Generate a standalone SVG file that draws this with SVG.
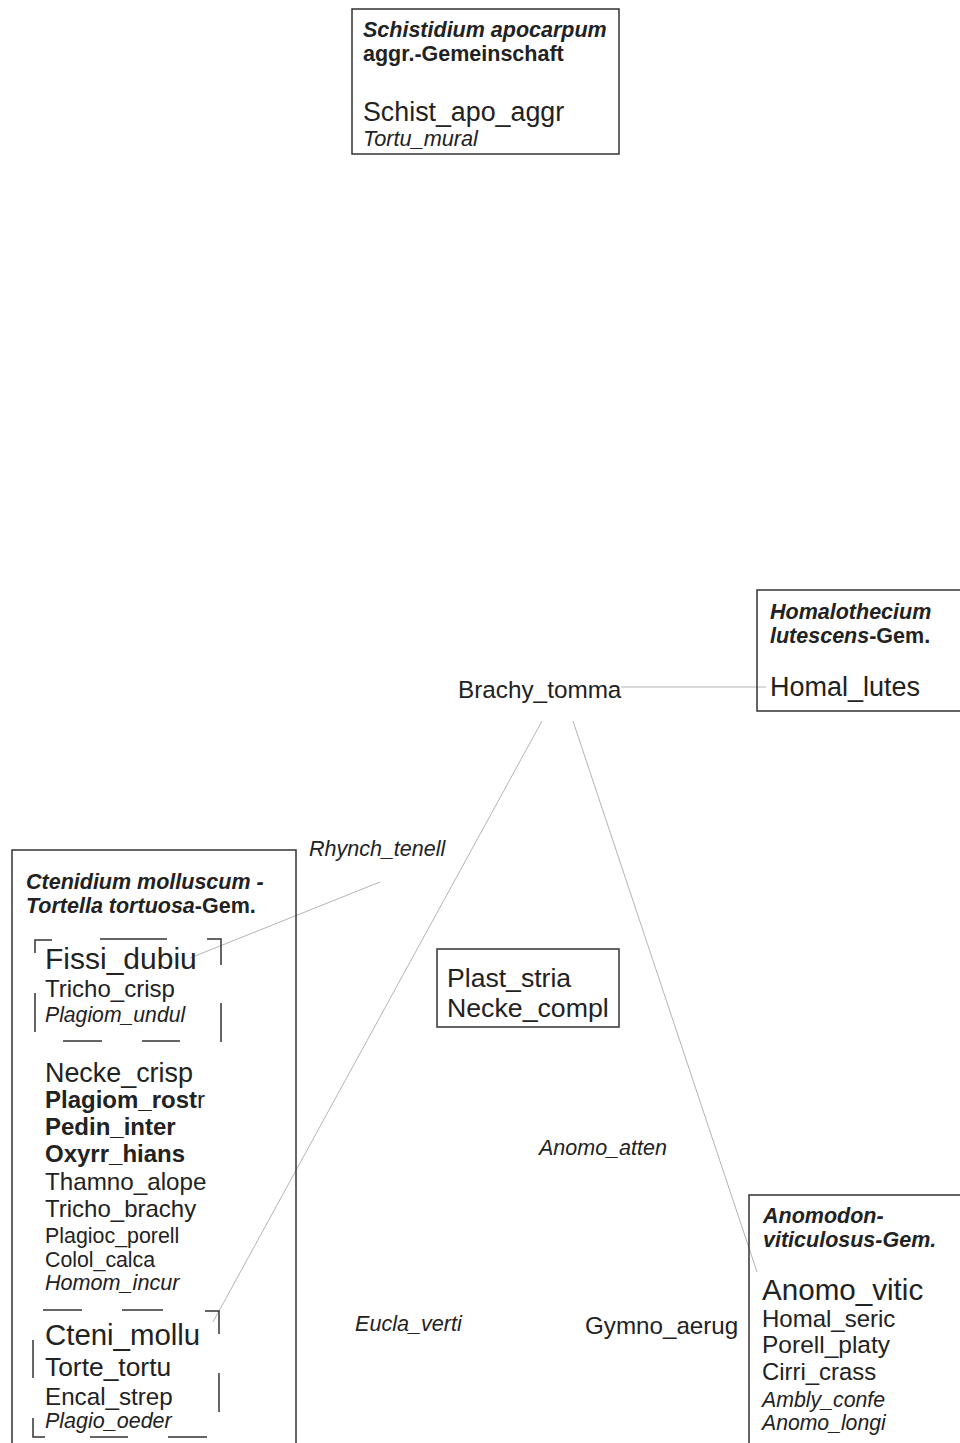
<svg xmlns="http://www.w3.org/2000/svg" width="960" height="1443" viewBox="0 0 960 1443">
<style>
text { font-family: "Liberation Sans", Arial, sans-serif; fill: #222; }
.box { fill: none; stroke: #333; stroke-width: 1.5; }
.br { fill: none; stroke: #333; stroke-width: 1.5; }
.con { stroke: #b4b4b4; stroke-width: 1; fill: none; }
.ttl { font-weight: bold; font-size: 21.5px; }
.bi { font-style: italic; }
.it { font-style: italic; }
.b { font-weight: bold; }
</style>
<rect width="960" height="1443" fill="#fff"/>
<g id="connectors">
  <line class="con" x1="621" y1="687" x2="766" y2="687"/>
  <line class="con" x1="542" y1="721" x2="213" y2="1322"/>
  <line class="con" x1="573" y1="721" x2="757" y2="1272"/>
  <line class="con" x1="380" y1="882" x2="190" y2="958"/>
</g>
<g id="schistidium">
  <rect class="box" x="352" y="9" width="267" height="145"/>
  <text class="ttl bi" x="363" y="37">Schistidium apocarpum</text>
  <text class="ttl" x="363" y="61">aggr.-Gemeinschaft</text>
  <text x="363" y="121" font-size="26.8">Schist_apo_aggr</text>
  <text class="it" x="363" y="146" font-size="21.7">Tortu_mural</text>
</g>
<g id="homalothecium">
  <rect class="box" x="757" y="590" width="210" height="121"/>
  <text class="ttl bi" x="770" y="619">Homalothecium</text>
  <text class="ttl" x="770" y="643"><tspan class="bi">lutescens</tspan>-Gem.</text>
  <text x="770" y="696" font-size="27">Homal_lutes</text>
</g>
<g id="brachy">
  <text x="458" y="698" font-size="24.3">Brachy_tomma</text>
</g>
<g id="rhynch">
  <text class="it" x="309" y="856" font-size="21.5">Rhynch_tenell</text>
</g>
<g id="ctenidium">
  <rect class="box" x="12" y="850" width="284" height="600"/>
  <text class="ttl bi" x="26" y="889">Ctenidium molluscum -</text>
  <text class="ttl" x="26" y="913"><tspan class="bi">Tortella tortuosa</tspan>-Gem.</text>
  <path class="br" d="M35,953 V940 H52 M100,939 H167 M207,939 H221 V965 M35,993 V1032 M221,1003 V1042 M63,1041 H102 M142,1041 H180"/>
  <text x="45" y="969" font-size="30">Fissi_dubiu</text>
  <text x="45" y="997" font-size="24">Tricho_crisp</text>
  <text class="it" x="45" y="1022" font-size="21.2">Plagiom_undul</text>
  <text x="45" y="1082" font-size="26.9">Necke_crisp</text>
  <text x="45" y="1108" font-size="24"><tspan class="b">Plagiom_rost</tspan>r</text>
  <text class="b" x="45" y="1135" font-size="24">Pedin_inter</text>
  <text class="b" x="45" y="1162" font-size="24">Oxyrr_hians</text>
  <text x="45" y="1190" font-size="24.2">Thamno_alope</text>
  <text x="45" y="1217" font-size="24">Tricho_brachy</text>
  <text x="45" y="1243" font-size="21.4">Plagioc_porell</text>
  <text x="45" y="1267" font-size="21.3">Colol_calca</text>
  <text class="it" x="45" y="1290" font-size="21.6">Homom_incur</text>
  <path class="br" d="M43,1310 H82 M122,1310 H163 M205,1311 H219 V1334 M33,1340 V1378 M219,1373 V1412 M33,1418 V1437 H45 M90,1437 H128 M168,1437 H207"/>
  <text x="45" y="1345" font-size="29.4">Cteni_mollu</text>
  <text x="45" y="1376" font-size="26.4">Torte_tortu</text>
  <text x="45" y="1405" font-size="24.2">Encal_strep</text>
  <text class="it" x="45" y="1428" font-size="21.5">Plagio_oeder</text>
</g>
<g id="plast">
  <rect class="box" x="437" y="949" width="182" height="78"/>
  <text x="447" y="987" font-size="26.6">Plast_stria</text>
  <text x="447" y="1017" font-size="26.7">Necke_compl</text>
</g>
<g id="anomo_atten">
  <text class="it" x="539" y="1155" font-size="21.5">Anomo_atten</text>
</g>
<g id="eucla">
  <text class="it" x="355" y="1331" font-size="21.6">Eucla_verti</text>
</g>
<g id="gymno">
  <text x="585" y="1334" font-size="24.2">Gymno_aerug</text>
</g>
<g id="anomodon">
  <rect class="box" x="749" y="1195" width="218" height="260"/>
  <text class="ttl bi" x="763" y="1223">Anomodon-</text>
  <text class="ttl bi" x="763" y="1247">viticulosus-Gem.</text>
  <text x="762" y="1300" font-size="29.6">Anomo_vitic</text>
  <text x="762" y="1327" font-size="24">Homal_seric</text>
  <text x="762" y="1353" font-size="24.5">Porell_platy</text>
  <text x="762" y="1380" font-size="23.9">Cirri_crass</text>
  <text class="it" x="762" y="1407" font-size="21.3">Ambly_confe</text>
  <text class="it" x="762" y="1430" font-size="21.2">Anomo_longi</text>
</g>
</svg>
